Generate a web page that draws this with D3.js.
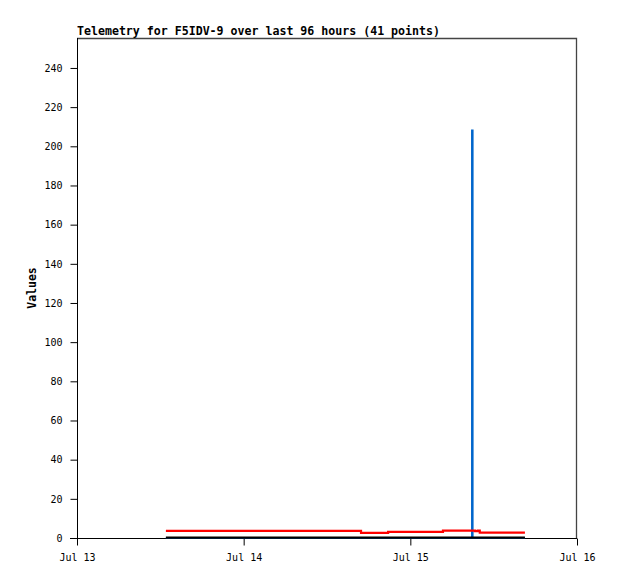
<!DOCTYPE html>
<html><head><meta charset="utf-8">
<script src="https://cdn.jsdelivr.net/npm/d3@7/dist/d3.min.js"></script>
<style>body{margin:0;background:#fff}svg{display:block}</style>
</head><body>
<svg id="c" width="618" height="579"></svg>
<script>
// hours since Jul 13 00:00
const times = [12.8,14.1,15.4,16.7,18.0,19.3,20.6,21.9,23.2,24.5,25.8,27.1,28.4,29.7,31.0,32.3,33.6,34.9,36.2,37.5,38.8,40.9,42.8,44.8,46.8,48.8,50.8,52.7,54.8,56.85,56.9,56.95,57.3,57.7,58.0,59.3,60.6,61.9,63.2,64.0,64.5];
const redValues = [3.6,3.6,3.6,3.6,3.6,3.6,3.6,3.6,3.6,3.6,3.6,3.6,3.6,3.6,3.6,3.6,3.6,3.6,3.6,3.6,3.6,2.6,2.6,3.1,3.1,3.1,3.1,3.8,3.8,3.8,3.8,3.8,3.5,3.8,2.7,2.7,2.7,2.7,2.7,2.7,2.7];
const blueValues = [0,0,0,0,0,0,0,0,0,0,0,0,0,0,0,0,0,0,0,0,0,0,0,0,0,0,0,0,0,0,208,0,0,0,0,0,0,0,0,0,0];
const blackValues = [0.2,0.2,0.2,0.2,0.2,0.2,0.2,0.2,0.2,0.2,0.2,0.2,0.2,0.2,0.2,0.2,0.2,0.2,0.2,0.2,0.2,0.2,0.2,0.2,0.2,0.2,0.2,0.2,0.2,0.2,0.2,0.2,0.2,0.2,0.2,0.2,0.2,0.2,0.2,0.2,0.2];
const yTicks = [0,20,40,60,80,100,120,140,160,180,200,220,240];
const xTickHours = [0,24,48,72];
const xTickLabels = ["Jul 13","Jul 14","Jul 15","Jul 16"];
const title = "Telemetry for F5IDV-9 over last 96 hours (41 points)";
const yLabel = "Values";

const svg = d3.select("#c");
const L=77, R=577, T=38, B=538;
const x = d3.scaleLinear().domain([0,72]).range([L,R]);
const y = d3.scaleLinear().domain([0,255.3]).range([B,T]);

// frame
svg.append("path").attr("d",`M${L},${T+0.5}H${R-0.5}V${B}`).attr("fill","none").attr("stroke","#444").attr("stroke-width",1.3);

const yAxis = d3.axisLeft(y).tickValues(yTicks).tickSize(7).tickPadding(8).tickFormat(d3.format("d"));
const gy = svg.append("g").attr("transform",`translate(${L+0.5},0)`).call(yAxis);
const xAxis = d3.axisBottom(x).tickValues(xTickHours).tickSize(7).tickPadding(8).tickFormat((d,i)=>xTickLabels[i]);
const gx = svg.append("g").attr("transform",`translate(0,${B+0.5})`).call(xAxis);
[gy,gx].forEach(g=>{
  g.select(".domain").remove();
  g.selectAll("line").attr("stroke","#000");
  g.selectAll("text").attr("font-family","DejaVu Sans Mono, monospace").attr("font-size","10px").attr("fill","#000");
});
// axis lines
svg.append("line").attr("x1",L+0.5).attr("x2",L+0.5).attr("y1",T).attr("y2",B+1).attr("stroke","#000");
svg.append("line").attr("x1",L-7).attr("x2",R).attr("y1",B+0.5).attr("y2",B+0.5).attr("stroke","#000");

const mk = vals => d3.line().x((d,i)=>x(times[i])).y(d=>y(d)).curve(d3.curveStepAfter)(vals);
svg.append("path").attr("d",mk(blueValues)).attr("fill","none").attr("stroke","#0066cc").attr("stroke-width",2.2);
svg.append("path").attr("d",mk(blackValues)).attr("fill","none").attr("stroke","#000").attr("stroke-width",2.2);
svg.append("path").attr("d",mk(redValues)).attr("fill","none").attr("stroke","#ff0000").attr("stroke-width",2.2);

svg.append("text").attr("x",L).attr("y",T-3).text(title)
  .attr("font-family","DejaVu Sans Mono, monospace").attr("font-weight","bold").attr("font-size","11.6px");
svg.append("text").attr("transform",`translate(36,${(T+B)/2}) rotate(-90)`).attr("text-anchor","middle").text(yLabel)
  .attr("font-family","DejaVu Sans Mono, monospace").attr("font-weight","bold").attr("font-size","11.5px");
</script>
</body></html>
